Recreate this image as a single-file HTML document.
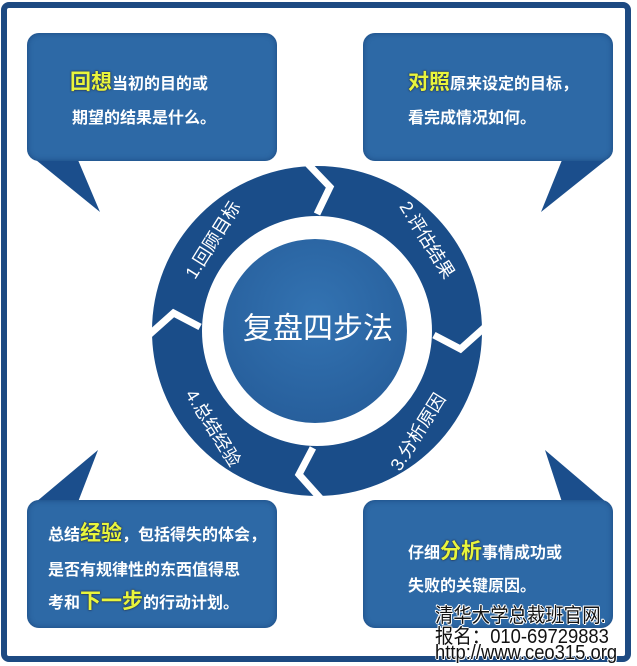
<!DOCTYPE html>
<html><head><meta charset="utf-8"><style>
html,body{margin:0;padding:0;background:#fff;}
body{width:637px;height:666px;position:relative;overflow:hidden;font-family:"Liberation Sans","Noto Sans CJK SC",sans-serif;}
.frame{position:absolute;left:1px;top:2px;width:618px;height:648px;border:6px solid #1d4a82;border-radius:8px;background:#fff;}
.box{position:absolute;width:250px;height:128px;background:#2d69a6;border-radius:12px;box-shadow:inset 0 0 6px rgba(10,40,90,.5);}
.t{position:absolute;color:#fff;font-size:16px;font-weight:bold;white-space:nowrap;font-family:"Noto Sans CJK SC",sans-serif;}
.y{color:#e8f53c;font-size:21px;text-shadow:0 0 1px #334,0 0 2px #223;}
.wm{position:absolute;left:435px;color:#111;font-size:20px;white-space:nowrap;font-family:"Liberation Sans","Noto Sans CJK SC",sans-serif;text-shadow:-1px 0 #fff,1px 0 #fff,0 -1px #fff,0 1px #fff,1px 1px #fff,-1px -1px #fff;transform-origin:left;transform:scaleX(0.92);}
</style></head><body>
<div class="frame"></div>
<svg width="637" height="666" style="position:absolute;left:0;top:0">
 <polygon points="36,160 78,160 100,212" fill="#1b4e8c"/>
 <polygon points="562,160 606,160 541,212" fill="#1b4e8c"/>
 <polygon points="36,502 78,502 98,450" fill="#1b4e8c"/>
 <polygon points="562,502 606,502 545,450" fill="#1b4e8c"/>
 <circle cx="317" cy="331" r="140" fill="none" stroke="#1a4d89" stroke-width="50"/>
 <defs><radialGradient id="g" cx="50%" cy="40%" r="60%"><stop offset="0" stop-color="#3373b2"/><stop offset="1" stop-color="#275f9c"/></radialGradient></defs>
 <circle cx="315" cy="331" r="92" fill="url(#g)"/>
 <g transform="translate(317,331)" fill="none" stroke="#fff" stroke-width="7" stroke-linejoin="miter">
  <polyline points="-10,-168 13,-144 0,-117"/>
  <polyline points="-10,-168 13,-144 0,-117" transform="rotate(92)"/>
  <polyline points="-10,-168 13,-144 0,-117" transform="rotate(182)"/>
  <polyline points="-10,-168 13,-144 0,-117" transform="rotate(272)"/>
 </g>
 <g fill="#fff" font-size="18" font-family="Liberation Sans,Noto Sans CJK SC,sans-serif" text-anchor="middle" dominant-baseline="central">
  <text transform="translate(213,240) rotate(-58)">1.回顾目标</text>
  <text transform="translate(427,240) rotate(58)">2.评估结果</text>
  <text transform="translate(418,432) rotate(-58)">3.分析原因</text>
  <text transform="translate(213,428) rotate(58)">4.总结经验</text>
  <text x="318" y="329" font-size="30">复盘四步法</text>
 </g>
</svg>
<div class="box" style="left:27px;top:33px"></div>
<div class="box" style="left:363px;top:33px"></div>
<div class="box" style="left:27px;top:500px"></div>
<div class="box" style="left:363px;top:500px"></div>
<div class="t" style="left:70px;top:66px"><span class="y">回想</span>当初的目的或</div>
<div class="t" style="left:72px;top:104px">期望的结果是什么。</div>
<div class="t" style="left:408px;top:66px"><span class="y">对照</span>原来设定的目标，</div>
<div class="t" style="left:408px;top:104px">看完成情况如何。</div>
<div class="t" style="left:48px;top:517px">总结<span class="y">经验</span>，包括得失的体会，</div>
<div class="t" style="left:48px;top:556px">是否有规律性的东西值得思</div>
<div class="t" style="left:48px;top:585px">考和<span class="y">下一步</span>的行动计划。</div>
<div class="t" style="left:408px;top:535px">仔细<span class="y">分析</span>事情成功或</div>
<div class="t" style="left:408px;top:572px">失败的关键原因。</div>
<div class="wm" style="top:599px">清华大学总裁班官网.</div>
<div class="wm" style="top:620px">报名：010-69729883</div>
<div class="wm" style="top:642px">http://www.ceo315.org</div>
</body></html>
